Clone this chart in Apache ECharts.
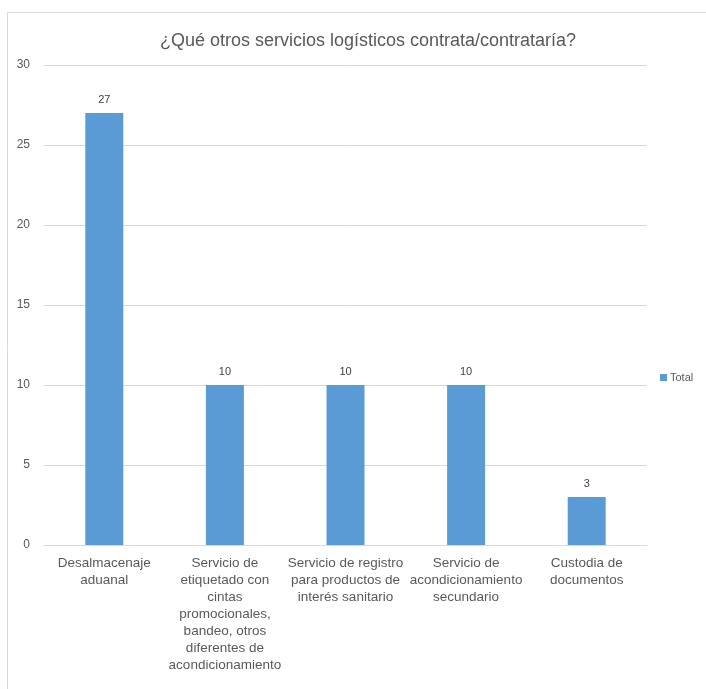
<!DOCTYPE html>
<html>
<head>
<meta charset="utf-8">
<script src="https://cdn.jsdelivr.net/npm/echarts@6/dist/echarts.min.js"></script>
<style>
  html, body { margin: 0; padding: 0; background: #ffffff; }
  #chart { width: 706px; height: 689px; }
</style>
</head>
<body>
<div id="chart"></div>
<script>
// Servicios logísticos adicionales contratados
const categories = [
  'Desalmacenaje\naduanal',
  'Servicio de\netiquetado con\ncintas\npromocionales,\nbandeo, otros\ndiferentes de\nacondicionamiento',
  'Servicio de registro\npara productos de\ninterés sanitario',
  'Servicio de\nacondicionamiento\nsecundario',
  'Custodia de\ndocumentos'
];
const totals = [27, 10, 10, 10, 3];
const seriesName = 'Total';
const chartTitle = '¿Qué otros servicios logísticos contrata/contrataría?';

const textColor = '#595959';
const fontFamily = '"Liberation Sans", "DejaVu Sans", sans-serif';

const chart = echarts.init(document.getElementById('chart'), null, { renderer: 'canvas' });
chart.setOption({
  backgroundColor: '#ffffff',
  animation: false,
  graphic: [{
    type: 'rect',
    silent: true,
    shape: { x: 7.5, y: 12.5, width: 720, height: 700 },
    style: { fill: 'none', stroke: '#d9d9d9', lineWidth: 1 }
  }],
  title: {
    text: chartTitle,
    left: 363,
    top: 27,
    textAlign: 'center',
    textStyle: { color: textColor, fontSize: 18, fontWeight: 'normal', fontFamily: fontFamily }
  },
  legend: {
    data: [seriesName],
    left: 655,
    top: 367,
    itemWidth: 7,
    itemHeight: 7,
    itemGap: 4,
    icon: 'rect',
    textStyle: { color: textColor, fontSize: 11, fontFamily: fontFamily, padding: [0, 0, 0, -2] }
  },
  grid: { left: 44, right: 59, top: 65, bottom: 144, containLabel: false },
  xAxis: {
    type: 'category',
    data: categories,
    axisLine: { show: true, lineStyle: { color: '#d9d9d9' } },
    axisTick: { show: false },
    axisLabel: {
      interval: 0,
      color: textColor,
      fontSize: 13.5,
      lineHeight: 17,
      margin: 10,
      fontFamily: fontFamily
    }
  },
  yAxis: {
    type: 'value',
    min: 0,
    max: 30,
    interval: 5,
    axisLine: { show: false },
    axisTick: { show: false },
    splitLine: { lineStyle: { color: '#d9d9d9' } },
    axisLabel: { color: textColor, fontSize: 12, margin: 14, fontFamily: fontFamily }
  },
  series: [{
    name: seriesName,
    type: 'bar',
    data: totals,
    barWidth: '31.5%',
    itemStyle: { color: '#5b9bd5' },
    label: {
      show: true,
      position: 'top',
      distance: 8,
      color: '#404040',
      fontSize: 11,
      fontFamily: fontFamily
    }
  }]
});
</script>
</body>
</html>
